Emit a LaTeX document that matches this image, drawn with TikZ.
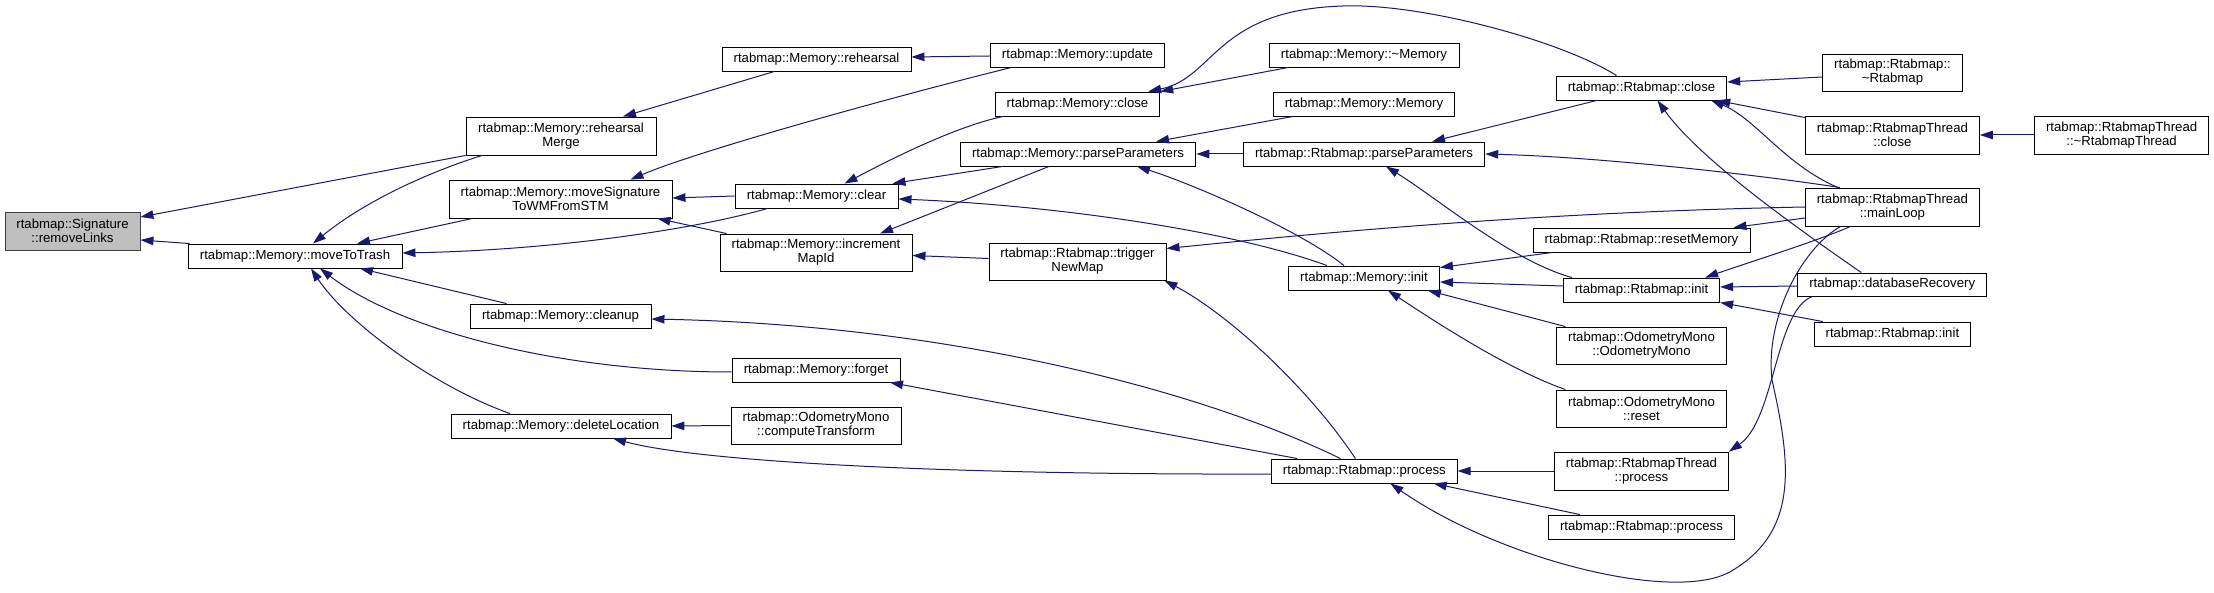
\documentclass[tikz,border=0pt]{standalone}
\usepackage{fontspec}
\usetikzlibrary{arrows.meta}
\newfontfamily\nodefont{Liberation Sans}
\newcommand\nodefontsz{\nodefont\fontsize{13.2pt}{14pt}\selectfont}
\definecolor{edgeblue}{HTML}{191970}
\definecolor{graybox}{HTML}{BFBFBF}
\definecolor{grayline}{HTML}{404040}
\tikzset{
  box/.style={draw=black, fill=white, line width=0.9pt, inner sep=0pt, align=center, font=\nodefontsz},
  e/.style={draw=edgeblue, line width=1pt, {Triangle[length=13pt,width=8.5pt]}-},
}
\begin{document}
\begin{tikzpicture}[x=1pt,y=-1pt]
\path[use as bounding box, fill=white] (0,0) rectangle (2214,593);
% column 1
\node[box, fill=graybox, draw=grayline, minimum width=135pt, minimum height=38pt] (rl) at (72.5,231) {rtabmap::Signature\\::removeLinks};
% column 2
\node[box, minimum width=214pt, minimum height=24pt] (mtt) at (295,256) {rtabmap::Memory::moveToTrash};
% column 3
\node[box, minimum width=190pt, minimum height=38pt] (rhm) at (561,136) {rtabmap::Memory::rehearsal\\Merge};
\node[box, minimum width=223pt, minimum height=38pt] (msw) at (560.5,199) {rtabmap::Memory::moveSignature\\ToWMFromSTM};
\node[box, minimum width=181pt, minimum height=24pt] (cln) at (560.5,316) {rtabmap::Memory::cleanup};
\node[box, minimum width=220pt, minimum height=24pt] (dl) at (561,426) {rtabmap::Memory::deleteLocation};
% column 4
\node[box, minimum width=189pt, minimum height=24pt] (rh) at (816.5,59) {rtabmap::Memory::rehearsal};
\node[box, minimum width=163pt, minimum height=24pt] (clr) at (816.5,196) {rtabmap::Memory::clear};
\node[box, minimum width=192pt, minimum height=37pt] (imi) at (816,252.5) {rtabmap::Memory::increment\\MapId};
\node[box, minimum width=168pt, minimum height=24pt] (fg) at (816,370) {rtabmap::Memory::forget};
\node[box, minimum width=170pt, minimum height=37pt] (ct) at (816,425.5) {rtabmap::OdometryMono\\::computeTransform};
% column 5
\node[box, minimum width=174.5pt, minimum height=24pt] (upd) at (1077.5,55) {rtabmap::Memory::update};
\node[box, minimum width=164.5pt, minimum height=24pt] (mcl) at (1077.5,104) {rtabmap::Memory::close};
\node[box, minimum width=235.7pt, minimum height=24pt] (mpp) at (1078,154) {rtabmap::Memory::parseParameters};
\node[box, minimum width=177pt, minimum height=37pt] (tnm) at (1077.5,261.5) {rtabmap::Rtabmap::trigger\\NewMap};
% column 6
\node[box, minimum width=190pt, minimum height=24pt] (mdt) at (1364,55) {rtabmap::Memory::\textasciitilde Memory};
\node[box, minimum width=181pt, minimum height=24pt] (mm) at (1364,104) {rtabmap::Memory::Memory};
\node[box, minimum width=241.5pt, minimum height=24pt] (rpp) at (1364,154) {rtabmap::Rtabmap::parseParameters};
\node[box, minimum width=151pt, minimum height=24pt] (mi) at (1364,278) {rtabmap::Memory::init};
\node[box, minimum width=185.6pt, minimum height=24pt] (rp) at (1364.4,471) {rtabmap::Rtabmap::process};
% column 7
\node[box, minimum width=170.4pt, minimum height=24pt] (rc) at (1641.5,88) {rtabmap::Rtabmap::close};
\node[box, minimum width=217pt, minimum height=24pt] (rm) at (1641.5,240) {rtabmap::Rtabmap::resetMemory};
\node[box, minimum width=156.4pt, minimum height=24pt] (ri) at (1641.5,290) {rtabmap::Rtabmap::init};
\node[box, minimum width=169.4pt, minimum height=37pt] (om) at (1641.5,345.5) {rtabmap::OdometryMono\\::OdometryMono};
\node[box, minimum width=169.4pt, minimum height=37pt] (orr) at (1641.5,408.5) {rtabmap::OdometryMono\\::reset};
\node[box, minimum width=174pt, minimum height=38pt] (rtp) at (1641.5,471) {rtabmap::RtabmapThread\\::process};
\node[box, minimum width=186.4pt, minimum height=24pt] (rp2) at (1641.5,527) {rtabmap::Rtabmap::process};
% column 8
\node[box, minimum width=139.5pt, minimum height=37pt] (rdt) at (1892.5,72.5) {rtabmap::Rtabmap::\\\textasciitilde Rtabmap};
\node[box, minimum width=174pt, minimum height=38pt] (rtc) at (1892.4,135) {rtabmap::RtabmapThread\\::close};
\node[box, minimum width=174pt, minimum height=38pt] (ml) at (1892.4,207) {rtabmap::RtabmapThread\\::mainLoop};
\node[box, minimum width=188.6pt, minimum height=23pt] (dr) at (1892.2,284.5) {rtabmap::databaseRecovery};
\node[box, minimum width=156.4pt, minimum height=24pt] (ri2) at (1892.4,334) {rtabmap::Rtabmap::init};
% column 9
\node[box, minimum width=174.6pt, minimum height=38pt] (rtdt) at (2121.6,135) {rtabmap::RtabmapThread\\::\textasciitilde RtabmapThread};

% edges (arrow tip at the called function)
\draw[e] ([yshift=14pt]rl.east) -- (rhm.south west);
\draw[e] ([yshift=-9pt]rl.east) -- ([xshift=2pt]mtt.north west);
\draw[e] ([xshift=62pt]rhm.north) -- ([xshift=-42pt]rh.south);
\draw[e] ([yshift=2pt]rh.east) -- ([yshift=-1pt]upd.west);
\draw[e] ([xshift=70pt]msw.north) .. controls (700,150) and (900,95) .. ([xshift=-66pt]upd.south);
\draw[e] ([xshift=18pt]mtt.north) .. controls (360,205) and (420,175) .. ([xshift=-79pt]rhm.south);
\draw[e] ([xshift=62pt]mtt.north) -- ([xshift=-88pt]msw.south);
\draw[e] ([yshift=3pt]mtt.east) .. controls (560,250) and (700,228) .. ([xshift=-49pt]clr.south);
\draw[e] ([yshift=1pt]msw.east) -- (clr.west);
\draw[e] ([xshift=97pt]msw.south) -- ([xshift=7pt]imi.north west);
\draw[e] ([xshift=65pt]mtt.south) -- ([xshift=37pt]cln.north west);
\draw[e] ([xshift=25pt]mtt.south) .. controls (400,330) and (560,372) .. ([yshift=-2pt]fg.west);
\draw[e] ([xshift=16pt]mtt.south) .. controls (345,320) and (430,385) .. ([xshift=-51pt]dl.north);
\draw[e] (dl.east) -- (ct.west);
\draw[e] ([xshift=52pt]dl.south) .. controls (700,462) and (950,475) .. ([yshift=-3pt]rp.west);
\draw[e] ([yshift=-3pt]cln.east) .. controls (950,325) and (1200,390) .. ([xshift=-24pt]rp.north);
\draw[e] ([xshift=74pt]fg.south) -- ([xshift=26pt]rp.north west);
\draw[e] ([xshift=28pt]clr.north) .. controls (880,165) and (950,128) .. ([xshift=8pt]mcl.south west);
\draw[e] ([xshift=-6pt]clr.north east) -- ([xshift=43pt]mpp.south west);
\draw[e] ([yshift=-3pt]clr.east) .. controls (1050,205) and (1230,230) .. ([xshift=-37pt]mi.north);
\draw[e] ([xshift=64pt]imi.north) -- ([xshift=-29pt]mpp.south);
\draw[e] ([yshift=-3pt]imi.east) -- ([yshift=3pt]tnm.west);
\draw[e] (mcl.north east) -- ([xshift=20pt]mdt.south west);
\draw[e] ([xshift=-12pt]mcl.north east) .. controls (1215,78) and (1215,10) .. (1343,6) .. controls (1420,3) and (1560,40) .. ([xshift=-25pt]rc.north);
\draw[e] ([xshift=78pt]mpp.north) -- ([xshift=20pt]mm.south west);
\draw[e] (mpp.east) -- (rpp.west);
\draw[e] ([xshift=59pt]mpp.south) .. controls (1190,183) and (1300,230) .. ([xshift=-20pt]mi.north);
\draw[e] ([xshift=68pt]rpp.north) -- ([xshift=41pt]rc.south west);
\draw[e] (rpp.east) .. controls (1600,157) and (1760,175) .. ([xshift=35pt]ml.north west);
\draw[e] ([xshift=22pt]rpp.south) .. controls (1440,200) and (1510,260) .. ([xshift=9pt]ri.north west);
\draw[e] ([yshift=13pt]tnm.east) .. controls (1350,230) and (1550,212) .. (ml.west);
\draw[e] ([xshift=-2pt]tnm.south east) .. controls (1230,315) and (1310,390) .. ([xshift=-9pt]rp.north);
\draw[e] ([yshift=-2pt]mi.north east) -- ([xshift=20pt]rm.south west);
\draw[e] ([yshift=-4pt]mi.east) -- ([yshift=4pt]ri.west);
\draw[e] ([xshift=-12pt]mi.south east) -- ([xshift=9pt]om.north west);
\draw[e] ([xshift=24pt]mi.south) .. controls (1440,325) and (1510,370) .. ([xshift=9pt]orr.north west);
\draw[e] ([xshift=-17pt]rm.north east) -- ([yshift=-11pt]ml.west);
\draw[e] ([yshift=6pt]rc.east) -- ([yshift=-4.5pt]rdt.west);
\draw[e] ([xshift=-10pt]rc.south east) -- ([yshift=-2pt]rtc.north west);
\draw[e] ([xshift=-16pt]rc.south east) .. controls (1755,118) and (1785,165) .. ([xshift=33pt]ml.north west);
\draw[e] ([xshift=16pt]rc.south) .. controls (1700,160) and (1800,230) .. ([xshift=-31pt]dr.north);
\draw[e] (rtc.east) -- (rtdt.west);
\draw[e] ([xshift=-15pt]ri.north east) .. controls (1750,262) and (1820,240) .. ([xshift=-42pt]ml.south);
\draw[e] ([yshift=3pt]ri.east) -- ([yshift=-1.5pt]dr.west);
\draw[e] (ri.south east) -- ([xshift=9pt]ri2.north west);
\draw[e] (rtp.north east) .. controls (1775,420) and (1775,310) .. ([xshift=15pt]dr.south west);
\draw[e] (rp.east) -- (rtp.west);
\draw[e] ([xshift=-24pt]rp.south east) -- ([xshift=32pt]rp2.north west);
\draw[e] ([xshift=26pt]rp.south) .. controls (1500,560) and (1680,605) .. (1733,570) .. controls (1800,530) and (1790,460) .. (1772,380) .. controls (1765,320) and (1800,250) .. ([xshift=-52pt]ml.south);
\end{tikzpicture}
\end{document}
